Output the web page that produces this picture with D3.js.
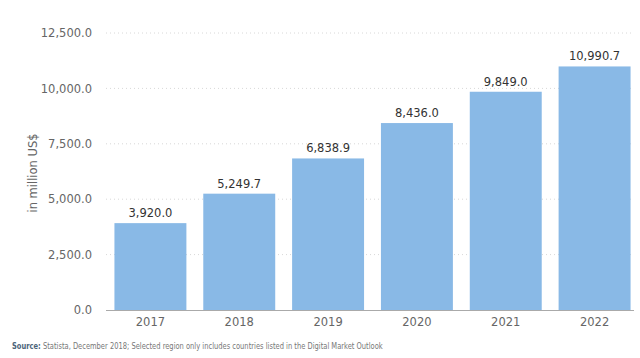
<!DOCTYPE html>
<html><head><meta charset="utf-8">
<script src="https://cdn.jsdelivr.net/npm/d3@7"></script>
<style>body{margin:0;background:#fff;}svg{display:block;font-family:"DejaVu Sans",sans-serif;}</style>
</head><body><svg id="c" width="640" height="358"></svg>
<script>
const categories = ["2017","2018","2019","2020","2021","2022"];
const values = [3920.0, 5249.7, 6838.9, 8436.0, 9849.0, 10990.7];
const yTicks = [0, 2500, 5000, 7500, 10000, 12500];

const svg = d3.select("#c");
const x = d3.scaleBand().domain(categories).range([106, 639]).paddingInner(0.19).paddingOuter(0.095);
const y = d3.scaleLinear().domain([0, 12500]).range([310, 33]);
const fmt = d3.format(",.1f");

svg.append("g").selectAll("line").data(yTicks.filter(d=>d>0)).join("line")
  .attr("x1",106).attr("x2",634).attr("y1",d=>y(d)).attr("y2",d=>y(d))
  .attr("stroke","#d8d8d8").attr("stroke-dasharray","1,3");

svg.append("g").selectAll("rect").data(values).join("rect")
  .attr("x",(d,i)=>x(categories[i])).attr("width",x.bandwidth())
  .attr("y",d=>y(d)).attr("height",d=>y(0)-y(d)).attr("fill","#89b9e6");

svg.append("line").attr("x1",106).attr("x2",634).attr("y1",y(0)+0.5).attr("y2",y(0)+0.5).attr("stroke","#aaa");

const yAxis = d3.axisLeft(y).tickValues(yTicks).tickFormat(fmt).tickSize(0).tickPadding(0);
const ga = svg.append("g").attr("transform","translate(92,0)").call(yAxis);
ga.select(".domain").remove();
ga.selectAll("text").attr("font-size",11.5).attr("fill","#666").attr("font-family","DejaVu Sans");

const xAxis = d3.axisBottom(x).tickSize(0).tickPadding(0);
const gx = svg.append("g").attr("transform","translate(0,318)").call(xAxis);
gx.select(".domain").remove();
gx.selectAll("text").attr("font-size",11.5).attr("fill","#666").attr("dy","0.71em").attr("font-family","DejaVu Sans");

svg.append("g").selectAll("text").data(values).join("text")
  .attr("x",(d,i)=>x(categories[i])+x.bandwidth()/2).attr("y",d=>y(d)-6)
  .attr("text-anchor","middle").attr("font-size",11.5).attr("fill","#333").text(d=>fmt(d));

svg.append("text").attr("transform","translate(37,173) rotate(-90)").attr("text-anchor","middle")
  .attr("font-size",11.5).attr("fill","#666").text("in million US$");

const src = svg.append("text").attr("transform","translate(12,349) scale(0.83,1)").attr("font-size",9)
  .attr("font-family","'DejaVu Sans Condensed',sans-serif").attr("fill","#777");
src.append("tspan").attr("font-weight","bold").attr("fill","#4d6479").text("Source:");
src.append("tspan").text(" Statista, December 2018; Selected region only includes countries listed in the Digital Market Outlook");
</script></body></html>
